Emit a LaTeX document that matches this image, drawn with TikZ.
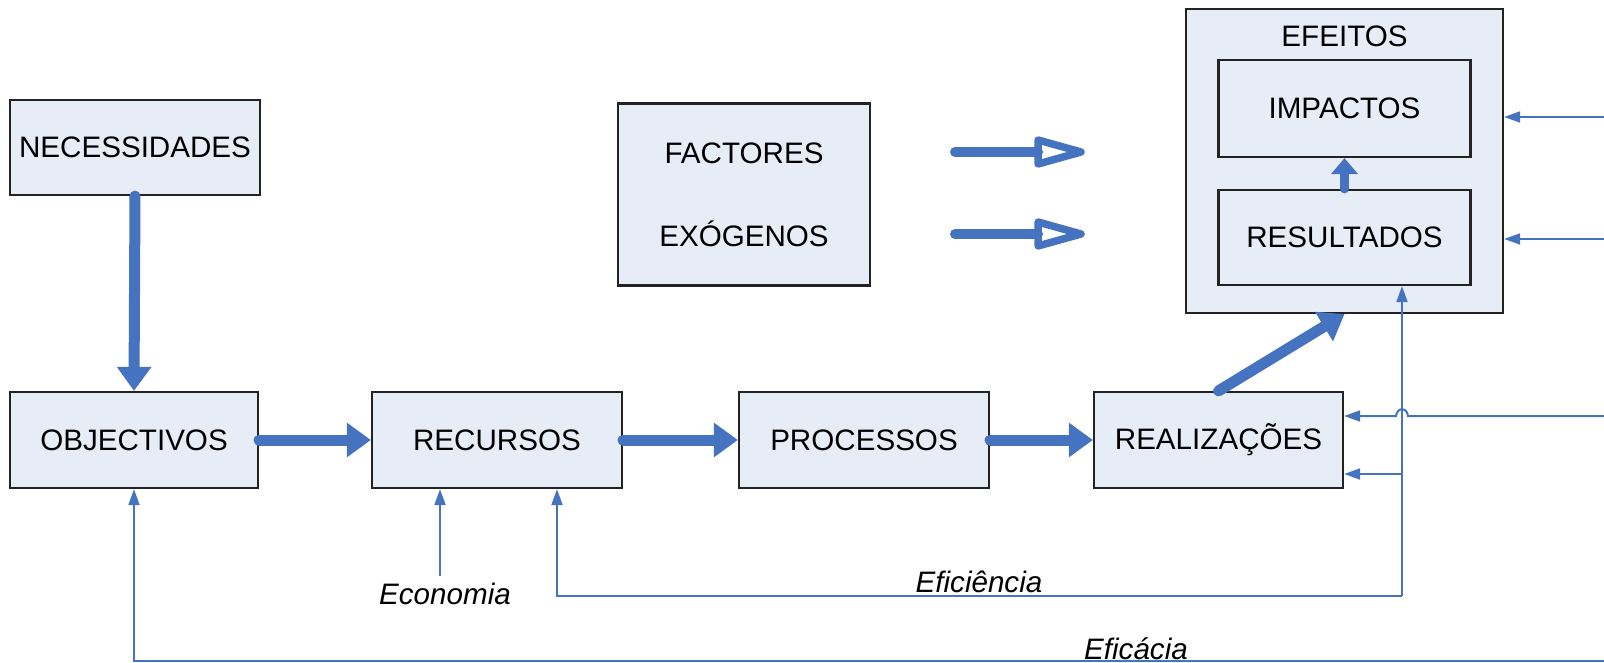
\documentclass[tikz,border=0pt]{standalone}
\usepackage{fontspec}
\setmainfont{Liberation Sans}
\usetikzlibrary{arrows.meta}
\definecolor{arrowblue}{RGB}{70,115,192}
\definecolor{boxfill}{RGB}{231,237,247}
\definecolor{boxline}{RGB}{35,35,35}
\begin{document}
\begin{tikzpicture}[x=1pt,y=-1pt,
  box/.style={draw=boxline,line width=2.2pt,fill=boxfill,inner sep=0pt,align=center,
    font=\fontsize{29.6}{34}\selectfont},
  bigarrow/.style={draw=arrowblue,line width=11pt,line cap=round,
    -{Triangle[length=24pt,width=33pt]}},
  thinarrow/.style={draw=arrowblue,line width=2pt,
    -{Triangle[length=16pt,width=11pt]}},
  lbl/.style={font=\fontsize{29.6}{34}\selectfont\itshape,inner sep=0pt,anchor=base},
  openshaft/.style={draw=arrowblue,line width=10pt,line cap=round},
  openhead/.style={draw=arrowblue,line width=7.5pt,line join=round}
]
\useasboundingbox (0,0) rectangle (1604,663);

% boxes
\node[box,minimum width=250pt,minimum height=95pt] (nec) at (135,147.5) {NECESSIDADES};
\node[box,minimum width=252pt,minimum height=182pt,font=\fontsize{29.6}{83}\selectfont] (fac) at (744,194.5) {FACTORES\\EXÓGENOS};
\node[box,minimum width=317pt,minimum height=304pt] (efeitos) at (1344.5,161) {};
\node[inner sep=0pt,font=\fontsize{29.6}{34}\selectfont] (eftxt) at (1344.5,36) {EFEITOS};
\node[box,minimum width=252pt,minimum height=97pt] (imp) at (1344.5,108.5) {IMPACTOS};
\node[box,minimum width=252pt,minimum height=95pt] (res) at (1344.5,237.5) {RESULTADOS};
\node[box,minimum width=248pt,minimum height=96pt] (obj) at (134,440) {OBJECTIVOS};
\node[box,minimum width=250pt,minimum height=96pt] (rec) at (497,440) {RECURSOS};
\node[box,minimum width=250pt,minimum height=96pt] (proc) at (864,440) {PROCESSOS};
\node[box,minimum width=249pt,minimum height=96pt] (real) at (1218.5,440) {REALIZAÇÕES};

% thick arrows
\draw[bigarrow] (nec.south) -- (obj.north);
\draw[bigarrow] (obj.east) -- (rec.west);
\draw[bigarrow] (rec.east) -- (proc.west);
\draw[bigarrow] (proc.east) -- (real.west);
\draw[bigarrow] (real.north) -- (efeitos.south);
\draw[draw=arrowblue,line width=9pt,line cap=round,-{Triangle[length=16pt,width=26pt]}] (res.north) -- (imp.south);

% factores exogenos arrows
\coordinate (fa1) at (955,152);
\coordinate (fa2) at (955,234);
\draw[openshaft] (fa1) -- (1038,152);
\draw[openhead] (1038,140) -- (1081,152) -- (1038,164) -- cycle;
\draw[openshaft] (fa2) -- (1038,234);
\draw[openhead] (1038,222) -- (1081,234) -- (1038,246) -- cycle;

% right side feedback arrows
\coordinate (r1) at (1604,117);
\coordinate (r2) at (1604,239);
\coordinate (r3) at (1604,416);
\draw[thinarrow] (r1) -- (r1 -| efeitos.east);
\draw[thinarrow] (r2) -- (r2 -| efeitos.east);
\draw[thinarrow] (r3) -- (1408,416) .. controls (1407,407) and (1397,407) .. (1396,416) -- (r3 -| real.east);

% eficiencia loop
\coordinate (ef1) at (1402,596);
\coordinate (ef2) at (557,596);
\coordinate (ef3) at (1402,474);
\draw[thinarrow] (ef1) -- (ef1 |- res.south);
\draw[thinarrow] (ef1) -- (ef2) -- (ef2 |- rec.south);
\draw[thinarrow] (ef3) -- (ef3 -| real.east);

% economia
\coordinate (eco) at (440,576);
\draw[thinarrow] (eco) -- (eco |- rec.south);

% eficacia
\coordinate (fc1) at (1604,661);
\coordinate (fc2) at (134,661);
\draw[thinarrow] (fc1) -- (fc2) -- (obj.south);

% labels
\node[lbl] (leco) at (445,604) {Economia};
\node[lbl] (lefi) at (979,592) {Eficiência};
\node[lbl] (lefc) at (1136,659) {Eficácia};
\end{tikzpicture}
\end{document}
